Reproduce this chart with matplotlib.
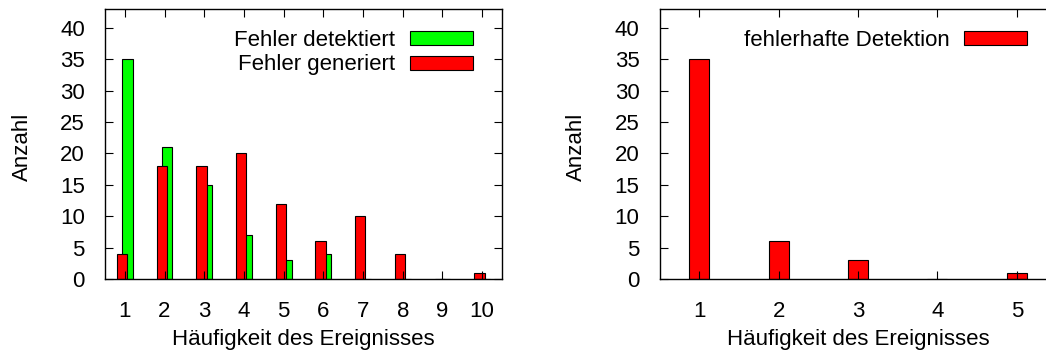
import numpy as np
import matplotlib
matplotlib.use("Agg")
from matplotlib import pyplot as plt

FS = 16
plt.rcParams['font.family'] = ['Liberation Sans', 'DejaVu Sans']
plt.rcParams['font.size'] = FS

# left: how often an event occurred
freq_left = np.arange(1, 11)
detected = [35, 21, 15, 7, 3, 4, 0, 0, 0, 0]
generated = [4, 18, 18, 20, 12, 6, 10, 4, 0, 1]

# right: faulty detections
freq_right = np.arange(1, 6)
faulty = [35, 6, 3, 0, 1]

xlabel = "Häufigkeit des Ereignisses"
ylabel = "Anzahl"
GREEN = "#00ff00"
RED = "#ff0000"

fig = plt.figure(figsize=(10.46, 3.58), dpi=100)
ax1 = fig.add_axes([105 / 1046, 1 - 279 / 358, 397 / 1046, 270 / 358])
ax2 = fig.add_axes([659.5 / 1046, 1 - 279 / 358, 397 / 1046, 270 / 358])


def style(ax, xmax):
    ax.set_ylim(0, 43)
    ax.set_xlim(0.5, xmax + 0.5)
    ax.set_xticks(np.arange(1, xmax + 1))
    ax.set_yticks(np.arange(0, 41, 5))
    ax.tick_params(direction='in', length=6, width=0.8, top=True, right=True,
                   labelsize=FS)
    ax.tick_params(axis='x', pad=16)
    ax.tick_params(axis='y', pad=14.5)
    for s in ax.spines.values():
        s.set_linewidth(1.0)
    ax.set_xlabel(xlabel, fontsize=FS)
    ax.xaxis.set_label_coords(0.5, -0.186)
    ax.set_ylabel(ylabel, fontsize=FS, va='center')
    ax.yaxis.set_label_coords(-0.209, 0.49)


def legend(ax):
    ax.legend(loc='upper right', bbox_to_anchor=(0.926, 0.922), frameon=False,
              markerfirst=False, handlelength=2.82, handleheight=0.59,
              handletextpad=0.68, labelspacing=0.15, borderpad=0,
              borderaxespad=0, fontsize=FS)


w = 0.26
ax1.bar(freq_left + 0.07, detected, width=w, color=GREEN, edgecolor='black',
        linewidth=0.8, label="Fehler detektiert")
ax1.bar(freq_left - 0.07, generated, width=w, color=RED, edgecolor='black',
        linewidth=0.8, label="Fehler generiert")
style(ax1, 10)
legend(ax1)

ax2.bar(freq_right, faulty, width=0.25, color=RED, edgecolor='black',
        linewidth=0.8, label="fehlerhafte Detektion")
style(ax2, 5)
legend(ax2)

fig.savefig("out.png", dpi=100)
